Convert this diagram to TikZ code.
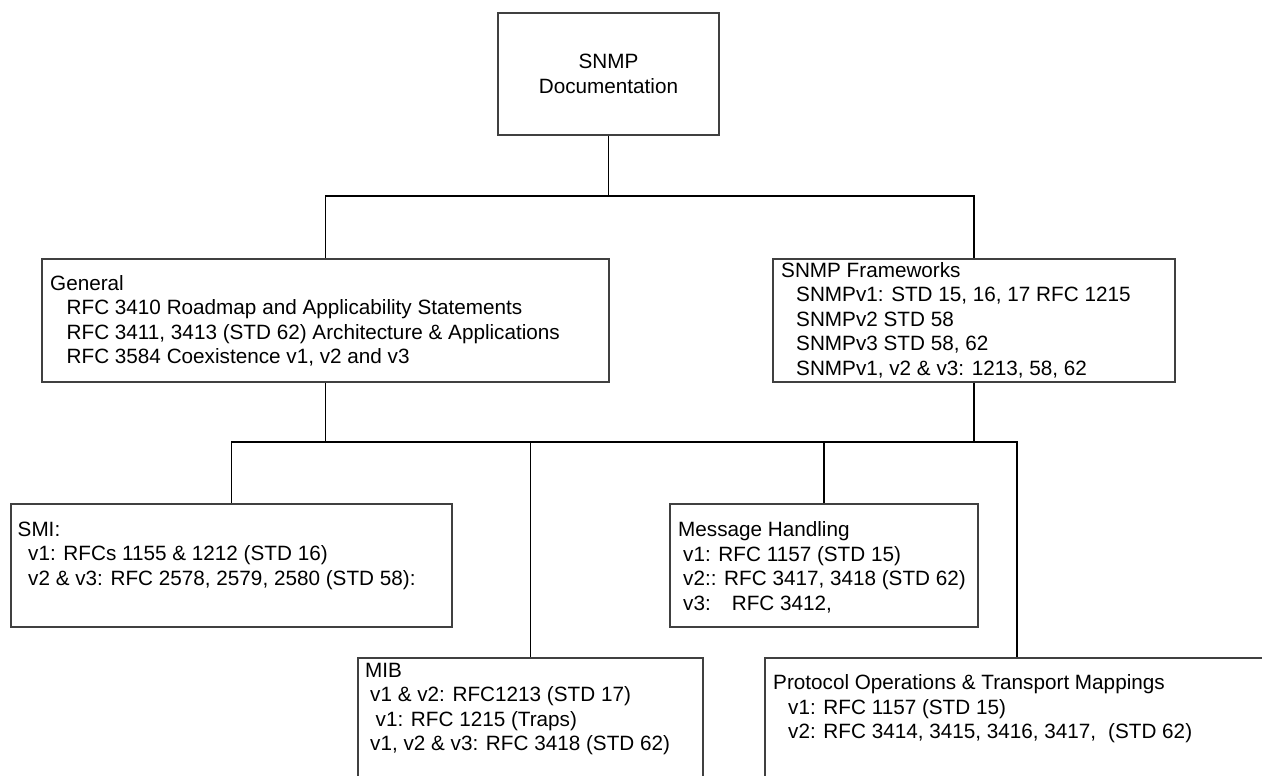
\documentclass[tikz,border=0pt]{standalone}
\usepackage{fontspec}
\setmainfont{Liberation Sans}
\newcommand\dfont{\fontsize{20.7}{24.5}\selectfont}
\newcommand\mlines[1]{\begin{tabular}[t]{@{}l@{}}#1\end{tabular}}
\begin{document}
\begin{tikzpicture}[x=1pt,y=-1pt,
  box/.style={draw=black!75, line width=1.1pt, rectangle, inner sep=0pt},
  conn/.style={draw=black, line width=1.1pt},
  txt/.style={inner sep=0pt, anchor=base west, font=\dfont}]
\path[use as bounding box] (0,0) rectangle (1262,776);
\clip (0,0) rectangle (1262,776);
\fill[white] (0,0) rectangle (1262,776);

% boxes
\node[box, minimum width=221pt, minimum height=122pt, font=\dfont, align=center] (top) at (608.5,74) {SNMP\\Documentation};
\node[box, minimum width=567pt, minimum height=123pt] (gen) at (325.5,320.5) {};
\node[box, minimum width=402pt, minimum height=123pt] (fw) at (974,320.5) {};
\node[box, minimum width=441pt, minimum height=123pt] (smi) at (231.5,565.5) {};
\node[box, minimum width=308pt, minimum height=123pt] (mh) at (824,565.5) {};
\node[box, minimum width=345pt, minimum height=200pt] (mib) at (530.5,758) {};
\node[box, minimum width=504pt, minimum height=200pt] (po) at (1017,758) {};

% texts
\node[txt] (gent) at (50,290) {\mlines{General\\
\hspace*{16.5pt}RFC 3410 Roadmap and Applicability Statements\\
\hspace*{16.5pt}RFC 3411, 3413 (STD 62) Architecture \& Applications\\
\hspace*{16.5pt}RFC 3584 Coexistence v1, v2 and v3}};

\node[txt] (fwt) at (781,277) {\mlines{SNMP Frameworks\\
\hspace*{15pt}SNMPv1: STD 15, 16, 17 RFC 1215\\
\hspace*{15pt}SNMPv2 STD 58\\
\hspace*{15pt}SNMPv3 STD 58, 62\\
\hspace*{15pt}SNMPv1, v2 \& v3: 1213, 58, 62}};

\node[txt] (smit) at (17.5,536) {\mlines{SMI:\\
\hspace*{10.5pt}v1: RFCs 1155 \& 1212 (STD 16)\\
\hspace*{10.5pt}v2 \& v3: RFC 2578, 2579, 2580 (STD 58):}};

\node[txt] (mht) at (678,536.5) {\mlines{Message Handling\\
\hspace*{5pt}v1: RFC 1157 (STD 15)\\
\hspace*{5pt}v2:: RFC 3417, 3418 (STD 62)\\
\hspace*{5pt}v3:\hspace*{21pt}RFC 3412,}};

\node[txt] (mibt) at (365,677) {\mlines{MIB\\
\hspace*{5pt}v1 \& v2: RFC1213 (STD 17)\\
\hspace*{10.5pt}v1: RFC 1215 (Traps)\\
\hspace*{5pt}v1, v2 \& v3: RFC 3418 (STD 62)}};

\node[txt] (pot) at (773,689.5) {\mlines{Protocol Operations \& Transport Mappings\\
\hspace*{15pt}v1: RFC 1157 (STD 15)\\
\hspace*{15pt}v2: RFC 3414, 3415, 3416, 3417,\hspace*{12pt}(STD 62)}};

% connectors
\coordinate (j1) at (608.5,196);
\coordinate (j2) at (325.5,442);
\coordinate (j3) at (974,442);
\draw[conn] (top.south) -- (j1);
\draw[conn] (j1) -| (gen.north);
\draw[conn] (j1) -| (fw.north);
\draw[conn] (gen.south) -- (j2);
\draw[conn] (fw.south) -- (j3);
\draw[conn] (j2) -- (j3);
\draw[conn] (j2) -| (smi.north);
\draw[conn] (j2) -| (mib.north);
\draw[conn] (j3) -| (mh.north);
\draw[conn] (j3) -| (po.north);
\end{tikzpicture}
\end{document}
